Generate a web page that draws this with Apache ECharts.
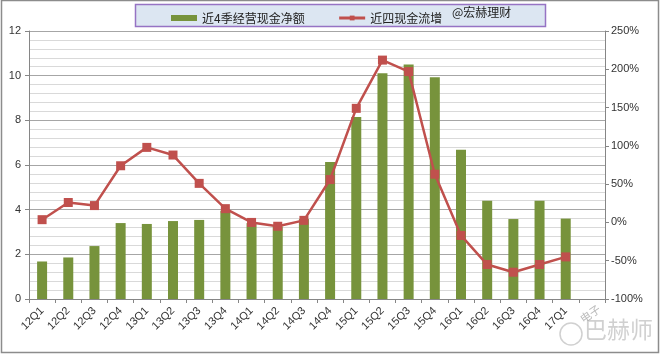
<!DOCTYPE html>
<html><head><meta charset="utf-8">
<script src="https://cdn.jsdelivr.net/npm/echarts@6/dist/echarts.min.js"></script>
<style>html,body{margin:0;padding:0;background:#fff}#c{width:660px;height:356px}</style>
</head><body><div id="c"></div>
<script>
var categories = ['12Q1','12Q2','12Q3','12Q4','13Q1','13Q2','13Q3','13Q4','14Q1','14Q2','14Q3','14Q4','15Q1','15Q2','15Q3','15Q4','16Q1','16Q2','16Q3','16Q4','17Q1',''];
var netCash = [1.68,1.86,2.37,3.40,3.36,3.49,3.54,3.95,3.40,3.25,3.58,6.13,8.15,10.11,10.5,9.93,6.68,4.40,3.58,4.40,3.60];
var growthPct = [3.6,26,22,74,98,88,51,18,0,-5,2.7,56,149,212,197,63,-17,-55,-65,-55,-45];
var leftTicks = {min:0,max:12,interval:2};
var rightTicks = {min:-100,max:250,interval:50};
var name1 = '近4季经营现金净额', name2 = '近四现金流增', tag = '@宏赫理财';

var chart = echarts.init(document.getElementById('c'), null, {renderer:'canvas'});
var font = '"Liberation Sans", Arial, sans-serif';
var cjk = '"Noto Sans CJK SC", sans-serif';
chart.setOption({
  animation:false,
  backgroundColor:'#fff',
  grid:{left:29,right:55,top:31,bottom:57,containLabel:false},
  legend:{
    left:166, top:7, itemGap:33, itemWidth:26, itemHeight:6,
    textStyle:{fontFamily:cjk,fontSize:12,color:'#222'},
    lineStyle:{width:3},
    data:[{name:name1,icon:'rect'},{name:name2}]
  },
  graphic:[
    {type:'rect',z:-10,shape:{x:135.5,y:4.5,width:410,height:22},style:{fill:'#dce6f2',stroke:'#9673c4',lineWidth:1.5}},
    {type:'text',z:10,left:452,top:6,style:{text:tag,fontFamily:cjk,fontSize:12,fill:'#222'}},
    {type:'rect',z:-20,shape:{x:1.5,y:0.5,width:657,height:352},style:{fill:'none',stroke:'#8c8c8c',lineWidth:1.5}},
    {type:'text',z:20,left:584,top:318,style:{text:'巴赫师',fontFamily:cjk,fontSize:23,fill:'rgba(170,170,170,0.55)'}},
    {type:'circle',z:20,shape:{cx:571,cy:334,r:11},style:{fill:'none',stroke:'rgba(170,170,170,0.55)',lineWidth:1.5}},
    {type:'text',z:20,left:578,top:303,rotation:0.6,style:{text:'电子',fontFamily:cjk,fontSize:11,fill:'rgba(140,140,140,0.6)'}}
  ],
  xAxis:{
    type:'category', data:categories, boundaryGap:true,
    axisLine:{lineStyle:{color:'#868686',width:1}},
    axisTick:{show:true,interval:0,length:4,lineStyle:{color:'#868686'}},
    axisLabel:{interval:0,rotate:45,fontSize:11,fontFamily:font,color:'#333',margin:10}
  },
  yAxis:[
    {type:'value',min:leftTicks.min,max:leftTicks.max,interval:leftTicks.interval,
     axisLine:{show:true,lineStyle:{color:'#868686'}},
     axisTick:{show:true,length:4,lineStyle:{color:'#868686'}},
     axisLabel:{fontSize:11,fontFamily:font,color:'#333',margin:8},
     splitLine:{show:true,lineStyle:{color:'#a6a6a6',width:1}},
     minorTick:{show:false,splitNumber:5},
     minorSplitLine:{show:true,lineStyle:{color:'#d9d9d9',width:1}}},
    {type:'value',min:rightTicks.min,max:rightTicks.max,interval:rightTicks.interval,position:'right',
     axisLine:{show:true,lineStyle:{color:'#868686'}},
     axisTick:{show:true,length:4,lineStyle:{color:'#868686'}},
     axisLabel:{fontSize:11,fontFamily:font,color:'#333',margin:6,formatter:'{value}%'},
     splitLine:{show:false}}
  ],
  series:[
    {name:name1,type:'bar',data:netCash,barWidth:10,itemStyle:{color:'#77933c'},yAxisIndex:0},
    {name:name2,type:'line',data:growthPct,yAxisIndex:1,symbol:'rect',symbolSize:9,
     lineStyle:{color:'#c0504d',width:2.5},itemStyle:{color:'#c0504d'},z:5}
  ]
});
</script></body></html>
